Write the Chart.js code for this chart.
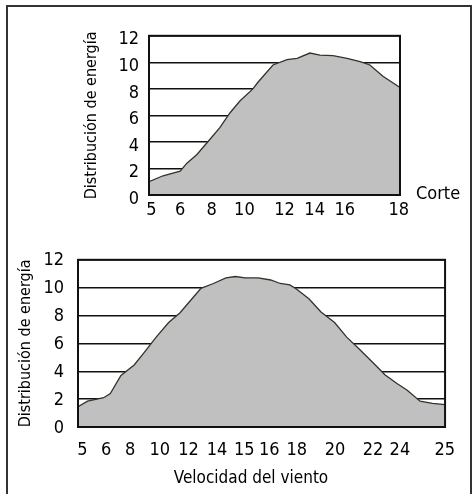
<!DOCTYPE html>
<html>
<head>
<meta charset="utf-8">
<script src="https://cdn.jsdelivr.net/npm/chart.js@4.4.1/dist/chart.umd.min.js"></script>
<style>
  html, body { margin: 0; padding: 0; background: #fff; }
  body { width: 473px; height: 494px; position: relative; overflow: hidden; }
  #frame { position: absolute; left: 6px; top: 5px; width: 462px; height: 500px;
           border-left: 2px solid #333; border-top: 2px solid #333; border-right: 2px solid #333; }
  #c1 { position: absolute; left: 75px; top: 15px; }
  #c2 { position: absolute; left: 8px; top: 235px; }
</style>
</head>
<body>
<div id="frame"></div>
<canvas id="c1" width="390" height="215"></canvas>
<canvas id="c2" width="460" height="255"></canvas>
<script>
// ---------- DATA ----------
// Top chart (up to cut-out speed). X is position along the drawn axis (0–100).
const topTickPos    = [1, 12.4, 25, 38, 54, 66, 78, 99.5];
const topTickLabels = ['5', '6', '8', '10', '12', '14', '16', '18'];
const topCurveX = [0, 5.6, 12.4, 15.1, 19.1, 24.3, 28.3, 32.3, 36.3, 41.4, 43.4, 49.4, 55, 59, 64.1, 68.1, 73.3, 78.9, 84.1, 88, 93.2, 100];
const topCurveY = [1.0, 1.45, 1.8, 2.4, 3.05, 4.2, 5.1, 6.2, 7.1, 8.0, 8.5, 9.8, 10.2, 10.3, 10.7, 10.55, 10.5, 10.3, 10.05, 9.8, 8.95, 8.1];

// Bottom chart (full speed range)
const botTickPos    = [1.2, 7.7, 14.2, 22.3, 30.1, 37.9, 45.3, 52.1, 59.6, 70, 80.4, 87.7, 99.9];
const botTickLabels = ['5', '6', '8', '10', '12', '14', '15', '16', '18', '20', '22', '24', '25'];
const botCurveX = [0, 2.6, 7, 8.8, 11.7, 15.3, 17.9, 21.3, 24.7, 27.8, 31.7, 33.5, 36.9, 40.3, 42.9, 45.5, 49.1, 52.5, 55.1, 57.7, 59.5, 62.9, 66.2, 69.9, 73.2, 76.6, 81, 83.6, 87, 89.6, 93.2, 96.6, 100];
const botCurveY = [1.45, 1.85, 2.1, 2.4, 3.7, 4.45, 5.3, 6.45, 7.5, 8.2, 9.4, 9.95, 10.3, 10.7, 10.8, 10.7, 10.7, 10.55, 10.3, 10.2, 9.9, 9.2, 8.25, 7.5, 6.45, 5.6, 4.45, 3.75, 3.1, 2.65, 1.85, 1.7, 1.6];

const yTicks = [0, 2, 4, 6, 8, 10, 12];
const yTitle = 'Distribución de energía';
const xTitle = 'Velocidad del viento';
const cutLabel = 'Corte';

// ---------- STYLE ----------
const FONT = "'Liberation Sans Narrow', 'DejaVu Sans Condensed', 'Arial Narrow', sans-serif";

const extraText = {
  id: 'extraText',
  afterDraw(chart, args, opts) {
    const ctx = chart.ctx;
    (opts.items || []).forEach(it => {
      ctx.save();
      ctx.font = it.size + 'px ' + FONT;
      ctx.fillStyle = '#000';
      ctx.textAlign = it.align || 'left';
      ctx.textBaseline = 'middle';
      ctx.fillText(it.text, it.x, it.y);
      ctx.restore();
    });
  }
};

const frameBox = {
  id: 'frameBox',
  afterDatasetsDraw(chart) {
    const a = chart.chartArea, ctx = chart.ctx;
    ctx.save();
    ctx.strokeStyle = '#111';
    ctx.lineWidth = 2;
    ctx.strokeRect(a.left, a.top, a.right - a.left, a.bottom - a.top);
    ctx.restore();
  }
};

function makeChart(id, xs, ys, tickPos, tickLabels, cfg) {
  const pts = xs.map((x, i) => ({ x: x, y: ys[i] }));
  return new Chart(document.getElementById(id), {
    type: 'line',
    data: {
      datasets: [{
        data: pts,
        fill: 'origin',
        backgroundColor: '#c0c0c0',
        borderColor: '#2f3527',
        borderWidth: 1.3,
        pointRadius: 0,
        tension: 0
      }]
    },
    options: {
      responsive: false,
      animation: false,
      devicePixelRatio: 1,
      layout: { padding: cfg.padding },
      plugins: {
        legend: { display: false },
        tooltip: { enabled: false },
        extraText: { items: cfg.texts }
      },
      scales: {
        x: {
          type: 'linear',
          min: 0, max: 100,
          afterBuildTicks: s => { s.ticks = tickPos.map(v => ({ value: v })); },
          afterFit: s => { s.height = cfg.xHeight; },
          grid: { display: false, drawTicks: false },
          border: { display: false },
          ticks: {
            autoSkip: false, maxRotation: 0, minRotation: 0,
            padding: cfg.xPad, color: '#000',
            font: { family: FONT, size: 18 },
            callback: (v, i) => tickLabels[i]
          }
        },
        y: {
          min: 0, max: 12,
          afterBuildTicks: s => { s.ticks = yTicks.map(v => ({ value: v })); },
          afterFit: s => { s.width = cfg.yWidth; },
          grid: { color: '#111', lineWidth: 1.5, drawTicks: false },
          border: { display: false },
          ticks: {
            padding: cfg.yPad, color: '#000', labelOffset: cfg.yLabelOffset,
            font: { family: FONT, size: 18 }
          },
          title: {
            display: true, text: yTitle, color: '#000',
            font: { family: FONT, size: 16 },
            padding: { top: cfg.titlePad, bottom: 0 }
          }
        }
      }
    },
    plugins: [frameBox, extraText]
  });
}

makeChart('c1', topCurveX, topCurveY, topTickPos, topTickLabels, {
  padding: { top: 15, right: 65, bottom: 0, left: 0 },
  xHeight: 35, yWidth: 74, xPad: 5, yPad: 10, yLabelOffset: 4, titlePad: 7,
  texts: [{ text: cutLabel, x: 341, y: 179, size: 18, align: 'left' }]
});

makeChart('c2', botCurveX, botCurveY, botTickPos, botTickLabels, {
  padding: { top: 17, right: 5, bottom: 0, left: 0 },
  xHeight: 63, yWidth: 70, xPad: 13, yPad: 14, yLabelOffset: 1, titlePad: 8,
  texts: [{ text: xTitle, x: 243, y: 244, size: 17, align: 'center' }]
});
</script>
</body>
</html>
